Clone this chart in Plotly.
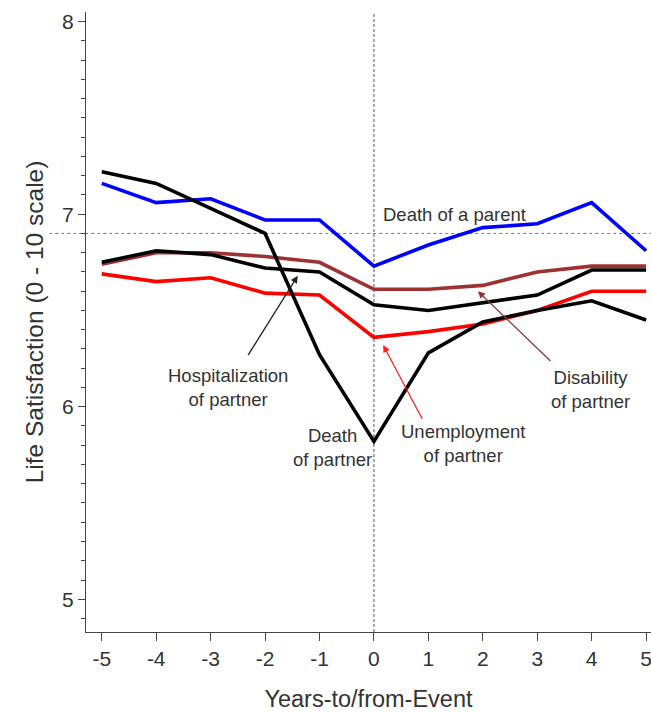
import plotly.graph_objects as go

years = [-5, -4, -3, -2, -1, 0, 1, 2, 3, 4, 5]
death_parent = [7.16, 7.06, 7.08, 6.97, 6.97, 6.73, 6.84, 6.93, 6.95, 7.06, 6.81]
unemployment_partner = [6.69, 6.65, 6.67, 6.59, 6.58, 6.36, 6.39, 6.43, 6.50, 6.60, 6.60]
disability_partner = [6.74, 6.80, 6.80, 6.78, 6.75, 6.61, 6.61, 6.63, 6.70, 6.73, 6.73]
hospitalization_partner = [6.75, 6.81, 6.79, 6.72, 6.70, 6.53, 6.50, 6.54, 6.58, 6.71, 6.71]
death_partner = [7.22, 7.16, 7.03, 6.90, 6.27, 5.82, 6.28, 6.44, 6.50, 6.55, 6.45]
reference_level = 6.9

y_ticks = [5, 6, 7, 8]
x_ticks = years
x_tick_labels = ["-5", "-4", "-3", "-2", "-1", "0", "1", "2", "3", "4", "5"]

FONT = "Liberation Sans, Arial, sans-serif"
TXT = "#333333"
BROWN = "#9E3232"

fig = go.Figure()
series = [
    (death_parent, "#0000FF", "Death of a parent"),
    (unemployment_partner, "#FF0000", "Unemployment of partner"),
    (disability_partner, BROWN, "Disability of partner"),
    (hospitalization_partner, "#000000", "Hospitalization of partner"),
    (death_partner, "#000000", "Death of partner"),
]
for vals, col, name in series:
    fig.add_trace(go.Scatter(x=years, y=vals, mode="lines", name=name,
                             line=dict(color=col, width=3.6), showlegend=False))

# reference lines
fig.add_shape(type="line", xref="paper", yref="y", x0=-0.065, x1=1,
              y0=reference_level, y1=reference_level,
              line=dict(color="#777777", width=1, dash="dot"), layer="below")
fig.add_shape(type="line", xref="x", yref="paper", x0=0, x1=0, y0=0, y1=1,
              line=dict(color="#555555", width=1, dash="3px,2px"), layer="below")

ann_font = dict(family=FONT, size=18.5, color=TXT)
fig.add_annotation(x=0.13, y=7.0, text="Death of a parent", showarrow=False,
                   xanchor="left", yanchor="middle", font=ann_font)
fig.add_annotation(x=-0.77, y=5.79, text="Death<br>of partner", showarrow=False,
                   xanchor="center", yanchor="middle", font=ann_font)
fig.add_annotation(x=-2.68, y=6.10, text="Hospitalization<br>of partner", showarrow=False,
                   xanchor="center", yanchor="middle", font=ann_font)
fig.add_annotation(x=3.97, y=6.09, text="Disability<br>of partner", showarrow=False,
                   xanchor="center", yanchor="middle", font=ann_font)
fig.add_annotation(x=1.64, y=5.81, text="Unemployment<br>of partner", showarrow=False,
                   xanchor="center", yanchor="middle", font=ann_font)

# arrows
arrows = [
    ((-1.40, 6.68), (-2.33, 6.26), "#222222"),
    ((1.91, 6.60), (3.27, 6.23), "#8B3A3A"),
    ((0.17, 6.32), (0.90, 5.93), "#FF2020"),
]
for (hx, hy), (tx, ty), col in arrows:
    fig.add_annotation(x=hx, y=hy, ax=tx, ay=ty, axref="x", ayref="y",
                       text="", showarrow=True, arrowhead=2, arrowsize=1.1,
                       arrowwidth=1.3, arrowcolor=col)

fig.update_layout(
    width=651, height=712,
    margin=dict(l=86, r=0, t=12, b=80),
    paper_bgcolor="white", plot_bgcolor="white",
    font=dict(family=FONT, color=TXT),
    xaxis=dict(range=[-5.29, 5.09], tickvals=x_ticks, ticktext=x_tick_labels,
               ticks="outside", ticklen=8, ticklabeloverflow="allow",
               tickcolor="#444444", showline=True, linecolor="#444444", linewidth=1,
               showgrid=False, zeroline=False, tickfont=dict(size=21, color=TXT),
               title=dict(text="Years-to/from-Event", font=dict(size=23.5, color=TXT), standoff=22)),
    yaxis=dict(range=[4.83, 8.05], tickvals=y_ticks, ticks="outside", ticklen=7,
               tickcolor="#444444", showline=True, linecolor="#444444", linewidth=1,
               showgrid=False, zeroline=False, tickfont=dict(size=21, color=TXT),
               minor=dict(dtick=0.1, ticks="outside", ticklen=4, tickcolor="#444444", showgrid=False),
               title=dict(text="Life Satisfaction (0 - 10 scale)", font=dict(size=24.5, color=TXT), standoff=11)),
)

fig.write_html("out.html", config={"displayModeBar": False},
               post_script="document.body.style.margin='0';document.body.style.overflow='hidden';")
